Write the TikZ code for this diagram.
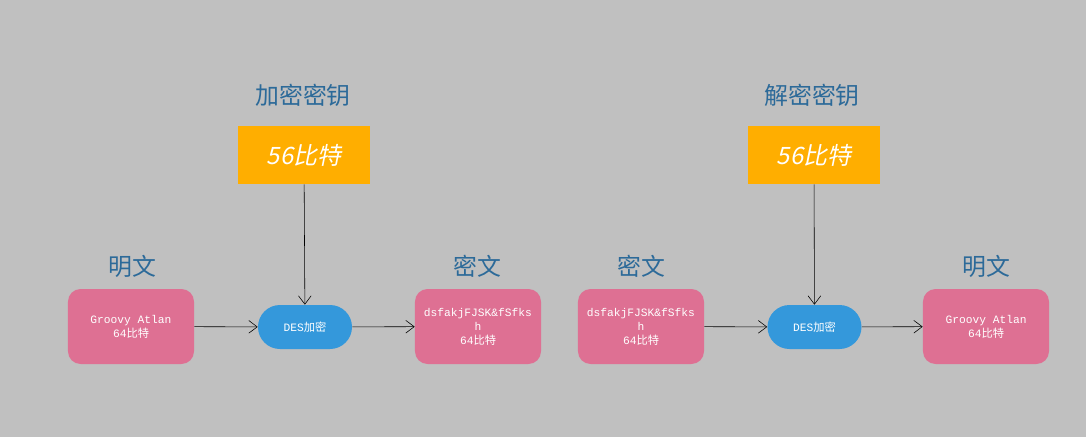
\documentclass[tikz,border=0pt]{standalone}
\usepackage{fontspec}
\setmainfont{Liberation Sans}
\setmonofont{Liberation Mono}
\newfontfamily\cjk{Noto Sans CJK SC}
\newfontfamily\cjkit[FakeSlant=0.2]{Noto Sans CJK SC}
\usetikzlibrary{arrows.meta}
\definecolor{bgray}{HTML}{C0C0C0}
\definecolor{pinkbox}{HTML}{DE7093}
\definecolor{bluedes}{HTML}{3498DB}
\definecolor{orangekey}{HTML}{FFAE00}
\definecolor{labelblue}{HTML}{2C6A99}
\tikzset{
  textbox/.style={fill=pinkbox,rounded corners=9pt,minimum width=3.15cm,minimum height=1.875cm,align=center,text=white,font=\ttfamily\fontsize{8}{10}\selectfont,inner sep=1pt},
  desbox/.style={fill=bluedes,rounded corners=0.55cm,minimum width=2.35cm,minimum height=1.1cm,text=white,font=\ttfamily\fontsize{8}{10}\selectfont},
  keybox/.style={fill=orangekey,minimum width=3.3cm,minimum height=1.45cm,text=white,font=\cjkit\fontsize{17}{20}\selectfont},
  title/.style={text=labelblue,font=\cjk\fontsize{17}{20}\selectfont},
  arr/.style={-{Straight Barb[length=6pt,width=9pt]},black}
}
\begin{document}
\begin{tikzpicture}[x=0.025cm,y=-0.025cm]
  \fill[bgray] (0,0) rectangle (1086,437);
  \useasboundingbox (0,0) rectangle (1086,437);

  % encryption
  \node[title] (t1) at (303,95) {加密密钥};
  \node[keybox] (k1) at (304,155) {56比特};
  \node[title] (p1) at (132,266) {明文};
  \node[textbox] (a1) at (131,326.5) {Groovy Atlan\\64{\cjk 比特}};
  \node[desbox] (d1) at (305,327) {DES{\cjk 加密}};
  \node[title] (c1) at (477,266) {密文};
  \node[textbox] (b1) at (478,326.5) {dsfakjFJSK\&fSfks\\h\\64{\cjk 比特}};

  \draw[arr] (k1) -- (d1);
  \draw[arr] (a1) -- (d1);
  \draw[arr] (d1) -- (b1);

  % decryption
  \node[title] (t2) at (812,95) {解密密钥};
  \node[keybox] (k2) at (814,155) {56比特};
  \node[title] (c2) at (641,266) {密文};
  \node[textbox] (a2) at (641,326.5) {dsfakjFJSK\&fSfks\\h\\64{\cjk 比特}};
  \node[desbox] (d2) at (814.5,327) {DES{\cjk 加密}};
  \node[title] (p2) at (986,266) {明文};
  \node[textbox] (b2) at (986,326.5) {Groovy Atlan\\64{\cjk 比特}};

  \draw[arr] (k2) -- (d2);
  \draw[arr] (a2) -- (d2);
  \draw[arr] (d2) -- (b2);
\end{tikzpicture}
\end{document}
